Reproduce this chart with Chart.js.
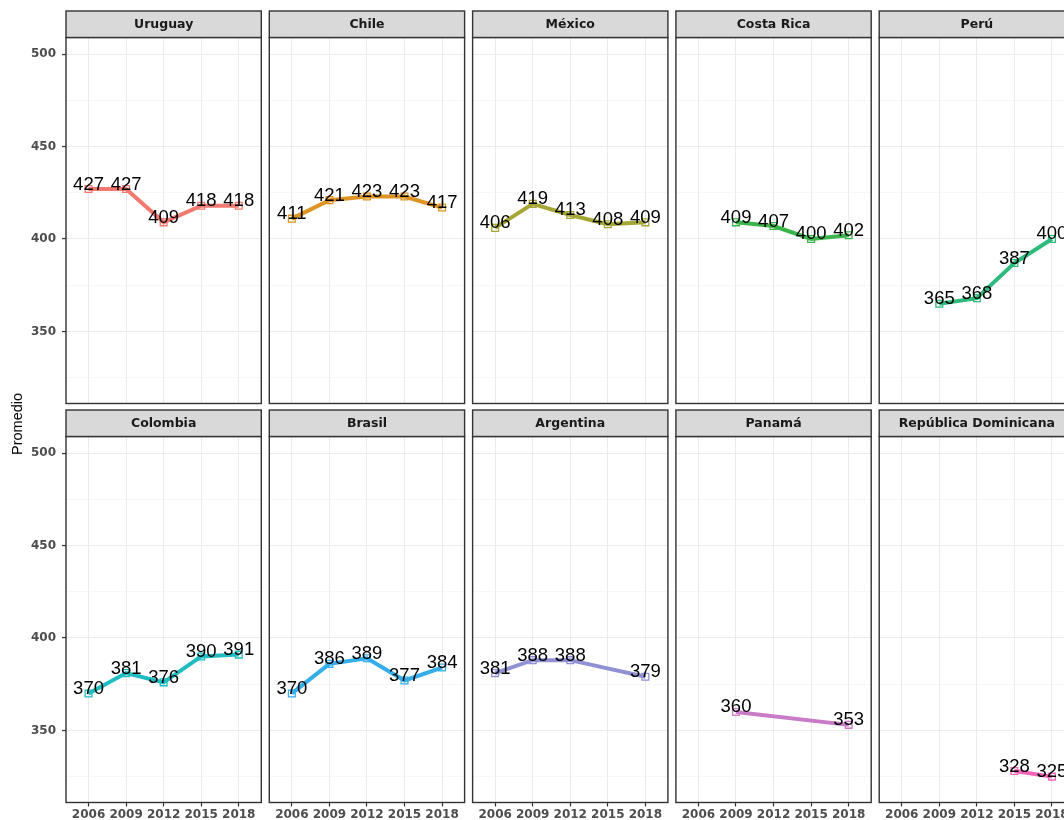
<!DOCTYPE html>
<html>
<head>
<meta charset="utf-8">
<script src="https://cdn.jsdelivr.net/npm/chart.js@4.4.0/dist/chart.umd.min.js"></script>
<style>
  html, body { margin: 0; padding: 0; background: #fff; overflow: hidden; }
  #fig { position: relative; width: 1064px; height: 820px; overflow: hidden; background: #fff; }
  #fig canvas { position: absolute; left: 0; top: 0; }
  #ytitle {
    position: absolute; left: 17px; top: 424px; z-index: 20;
    transform: translate(-50%, -50%) rotate(-90deg);
    font: 14.5px "Liberation Sans", Arial, sans-serif; color: #000; white-space: nowrap;
  }
</style>
</head>
<body>
<div id="fig"><div id="ytitle">Promedio</div></div>
<script>
// PISA averages by country and round
const years = [2006, 2009, 2012, 2015, 2018];
const countries = ['Uruguay', 'Chile', 'México', 'Costa Rica', 'Perú',
                   'Colombia', 'Brasil', 'Argentina', 'Panamá', 'República Dominicana'];
const uruguay    = [427, 427, 409, 418, 418];
const chile      = [411, 421, 423, 423, 417];
const mexico     = [406, 419, 413, 408, 409];
const costaRica  = [null, 409, 407, 400, 402];
const peru       = [null, 365, 368, 387, 400];
const colombia   = [370, 381, 376, 390, 391];
const brasil     = [370, 386, 389, 377, 384];
const argentina  = [381, 388, 388, null, 379];
const panama     = [null, 360, null, null, 353];
const repDom     = [null, null, null, 328, 325];
const series = [uruguay, chile, mexico, costaRica, peru, colombia, brasil, argentina, panama, repDom];
const palette = ['#F27970', '#DE9323', '#A5A636', '#3AB54A', '#2DBA7D',
                 '#1FBDC2', '#35ADEA', '#9090D4', '#C97BC8', '#F266B8'];
const yTicks = [325, 350, 375, 400, 425, 450, 475, 500];
const yLimits = [311, 509];

// facet grid geometry
const CANVAS_W = 1100, CANVAS_H = 820;
const LEFT0 = 66, STEP_X = 203.3, PANEL_W = 195.3;
const ROW_TOPS = [37.5, 436.5], PANEL_H = 366, STRIP_H = 26.5;
const Y_AXIS_W = 40, X_AXIS_H = 18;

const isMajor = v => v % 50 === 0;
const axisFont = { family: '"DejaVu Sans", sans-serif', size: 12, weight: 'bold' };

const facetPlugin = {
  id: 'facet',
  afterDatasetsDraw(chart) {
    const ctx = chart.ctx;
    const ds = chart.data.datasets[0];
    const meta = chart.getDatasetMeta(0);
    ctx.save();
    ctx.font = '18.5px "Liberation Sans", Arial, sans-serif';
    ctx.fillStyle = '#000';
    ctx.textAlign = 'center';
    ctx.textBaseline = 'alphabetic';
    meta.data.forEach((pt, k) => {
      ctx.fillText(String(ds.data[k].y), pt.x, pt.y + 0.5);
    });
    ctx.restore();
  },
  afterDraw(chart, args, opts) {
    const ctx = chart.ctx;
    const { left, top, right, bottom } = chart.chartArea;
    const w = right - left;
    ctx.save();
    ctx.strokeStyle = '#333333';
    ctx.lineWidth = 1.4;
    ctx.strokeRect(left, top, w, bottom - top);
    ctx.fillStyle = '#D9D9D9';
    ctx.fillRect(left, top - STRIP_H, w, STRIP_H);
    ctx.strokeRect(left, top - STRIP_H, w, STRIP_H);
    ctx.fillStyle = '#1A1A1A';
    ctx.font = 'bold 12.5px "DejaVu Sans", sans-serif';
    ctx.textAlign = 'center';
    ctx.textBaseline = 'middle';
    ctx.fillText(opts.title, left + w / 2, top - STRIP_H / 2 + 0.5);
    ctx.restore();
  }
};

const fig = document.getElementById('fig');

countries.forEach((name, i) => {
  const col = i % 5, row = Math.floor(i / 5);
  const left = LEFT0 + col * STEP_X;
  const top = ROW_TOPS[row];
  const right = left + PANEL_W;
  const bottom = top + PANEL_H;
  const showY = col === 0, showX = row === 1;
  const yW = showY ? Y_AXIS_W : 0;
  const xH = showX ? X_AXIS_H : 0;

  const canvas = document.createElement('canvas');
  canvas.width = CANVAS_W; canvas.height = CANVAS_H;
  canvas.style.width = CANVAS_W + 'px'; canvas.style.height = CANVAS_H + 'px';
  fig.insertBefore(canvas, document.getElementById('ytitle'));

  const points = years
    .map((yr, k) => ({ x: yr, y: series[i][k] }))
    .filter(p => p.y !== null);

  new Chart(canvas, {
    type: 'line',
    data: {
      datasets: [{
        label: name,
        data: points,
        borderColor: palette[i],
        borderWidth: 4,
        tension: 0,
        pointStyle: 'rect',
        pointRadius: 4.8,
        pointBorderWidth: 1.3,
        pointBorderColor: palette[i],
        pointBackgroundColor: 'rgba(255,255,255,0)'
      }]
    },
    options: {
      responsive: false,
      animation: false,
      devicePixelRatio: 1,
      events: [],
      layout: {
        padding: {
          left: left - yW,
          top: top,
          right: CANVAS_W - right,
          bottom: CANVAS_H - bottom - xH
        }
      },
      plugins: {
        legend: { display: false },
        tooltip: { enabled: false },
        facet: { title: name }
      },
      scales: {
        x: {
          type: 'linear',
          min: years[0] - 0.6 * 3,
          max: years[years.length - 1] + 0.6 * 3,
          afterBuildTicks: s => { s.ticks = years.map(v => ({ value: v })); },
          afterFit: s => { s.height = xH; },
          border: { display: false },
          grid: {
            color: '#EBEBEB', lineWidth: 1,
            drawTicks: showX, tickLength: 4, tickColor: '#333333', tickWidth: 1.2
          },
          ticks: {
            display: showX, autoSkip: false, maxRotation: 0, minRotation: 0,
            padding: 1, color: '#4D4D4D', font: axisFont,
            callback: v => String(v)
          }
        },
        y: {
          type: 'linear',
          min: yLimits[0],
          max: yLimits[1],
          afterBuildTicks: s => { s.ticks = yTicks.map(v => ({ value: v })); },
          afterFit: s => { s.width = yW; },
          border: { display: false },
          grid: {
            color: c => isMajor(c.tick.value) ? '#EBEBEB' : '#F3F3F3',
            lineWidth: c => isMajor(c.tick.value) ? 1.1 : 0.7,
            drawTicks: showY, tickLength: 4, tickWidth: 1.2,
            tickColor: c => isMajor(c.tick.value) ? '#333333' : 'rgba(0,0,0,0)'
          },
          ticks: {
            display: showY, autoSkip: false, padding: 6,
            color: '#4D4D4D', font: axisFont,
            callback: v => isMajor(v) ? String(v) : ''
          }
        }
      }
    },
    plugins: [facetPlugin]
  });
});
</script>
</body>
</html>
